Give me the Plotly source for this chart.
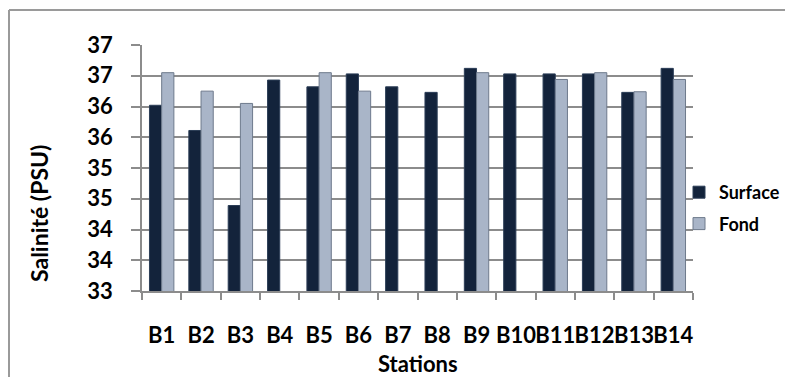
import plotly.graph_objects as go

stations = ["B1", "B2", "B3", "B4", "B5", "B6", "B7", "B8", "B9", "B10", "B11", "B12", "B13", "B14"]
surface = [36.02, 35.61, 34.39, 36.43, 36.32, 36.53, 36.32, 36.23, 36.62, 36.53, 36.53, 36.53, 36.23, 36.62]
fond = [36.55, 36.25, 36.05, None, 36.55, 36.25, None, None, 36.55, None, 36.44, 36.55, 36.24, 36.44]
y_tickvals = [33, 33.5, 34, 34.5, 35, 35.5, 36, 36.5, 37]
y_ticktext = ["33", "34", "34", "35", "35", "36", "36", "37", "37"]

FONT = "Lato"
GRID = "#8c8c8c"

fig = go.Figure()
fig.add_trace(go.Bar(
    x=stations, y=surface, name="Surface", legendgroup="s",
    marker=dict(color="#13233b", line=dict(color="#2c3e57", width=1)),
))
fig.add_trace(go.Bar(
    x=stations, y=fond, name="Fond", legendgroup="f",
    marker=dict(color="#a9b5c8", line=dict(color="#6e7a8c", width=1)),
))

fig.update_layout(
    width=786, height=378,
    margin=dict(l=142, r=93, t=45, b=87, autoexpand=False),
    paper_bgcolor="white", plot_bgcolor="white",
    barmode="group", bargap=0.38, bargroupgap=0,
    showlegend=True,
    legend=dict(
        xref="container", yref="container",
        x=679 / 786, y=1 - 208 / 378, xanchor="left", yanchor="middle",
        font=dict(family=FONT, size=18, color="black", weight="bold"),
        bgcolor="rgba(0,0,0,0)", itemwidth=30,
        traceorder="grouped", tracegroupgap=5,
    ),
    font=dict(family=FONT, color="black"),
)

fig.update_xaxes(
    type="category",
    showgrid=False, zeroline=False, automargin=False,
    showline=True, linecolor=GRID, linewidth=1.5,
    ticks="outside", tickson="boundaries", ticklen=7, tickcolor=GRID, tickwidth=1.5,
    tickangle=0,
    tickfont=dict(family=FONT, size=22, color="black", weight="bold"),
    ticklabelstandoff=24,
)
fig.update_yaxes(
    range=[33, 37], automargin=False,
    tickvals=y_tickvals, ticktext=y_ticktext,
    showgrid=True, gridcolor=GRID, gridwidth=1.5,
    zeroline=False,
    showline=True, linecolor=GRID, linewidth=1.5,
    ticks="outside", ticklen=9, tickcolor=GRID, tickwidth=1.5,
    tickfont=dict(family=FONT, size=22, color="black", weight="bold"),
    ticklabelstandoff=14,
)

# axis titles
fig.add_annotation(
    text="Salinité (PSU)", textangle=-90,
    xref="paper", yref="paper", x=(39 - 142) / 551, y=(291 - 214) / 246,
    xanchor="center", yanchor="middle", showarrow=False,
    font=dict(family=FONT, size=23, color="black", weight="bold"),
)
fig.add_annotation(
    text="Stations",
    xref="paper", yref="paper", x=0.5, y=(291 - 363) / 246,
    xanchor="center", yanchor="middle", showarrow=False,
    font=dict(family=FONT, size=22, color="black", weight="bold"),
)

# outer chart frame (top and left edges visible)
fx0 = (9 - 142) / 551
fy1 = 1 + (45 - 10) / 246
fig.add_shape(type="line", xref="paper", yref="paper", layer="above",
              x0=fx0, x1=(785 - 142) / 551, y0=fy1, y1=fy1,
              line=dict(color="#9a9a9a", width=2))
fig.add_shape(type="line", xref="paper", yref="paper", layer="above",
              x0=fx0, x1=fx0, y0=fy1, y1=-(377 - 291) / 246,
              line=dict(color="#9a9a9a", width=2))

fig.write_html("out.html",
               config={"displayModeBar": False},
               post_script="document.body.style.margin='0';")
